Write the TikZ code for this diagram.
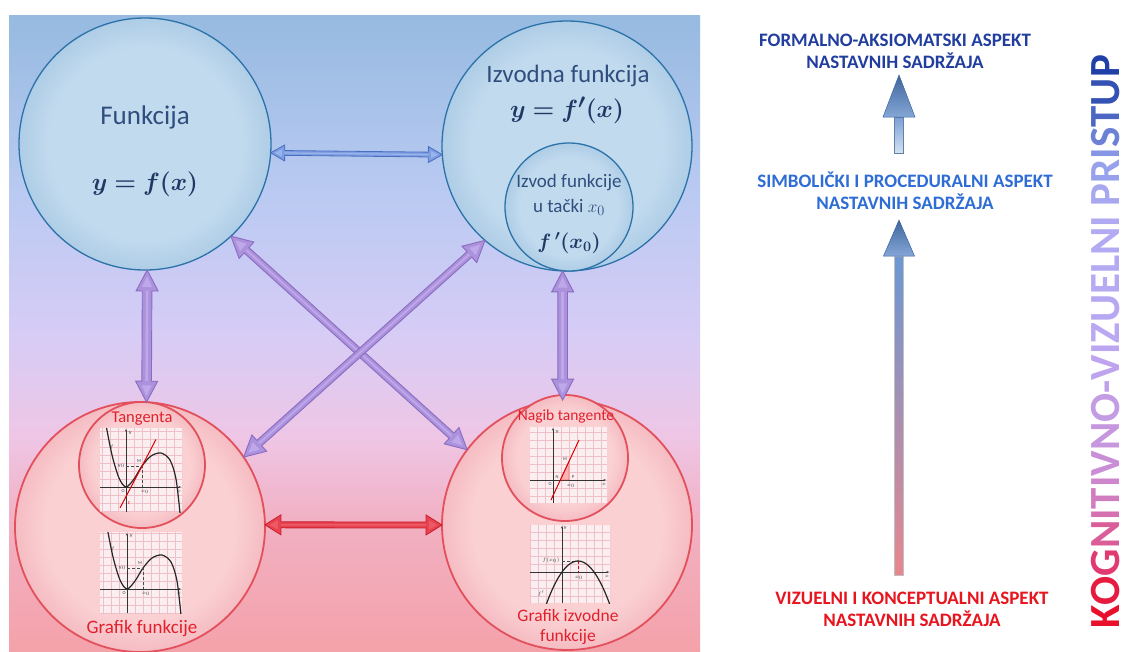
\documentclass[tikz,border=0pt]{standalone}
\usepackage{fontspec}
\usepackage{bm}
\setmainfont{Carlito}
\usetikzlibrary{calc,shadings,arrows.meta}
\definecolor{bgA}{HTML}{96BAE0}
\definecolor{bgB}{HTML}{BACAF2}
\definecolor{bgC}{HTML}{D6CCF6}
\definecolor{bgD}{HTML}{EEC6E6}
\definecolor{bgE}{HTML}{F2B0C2}
\definecolor{bgF}{HTML}{F4A2AA}
\definecolor{tcA}{HTML}{C2DAEE}
\definecolor{tcB}{HTML}{AECDE6}
\definecolor{tcLine}{HTML}{2B72A8}
\definecolor{tcText}{HTML}{2F4E7E}
\definecolor{tcMath}{HTML}{1F3864}
\definecolor{bcA}{HTML}{FAD0D3}
\definecolor{bcB}{HTML}{F5BCC2}
\definecolor{bcLine}{HTML}{E2505C}
\definecolor{redText}{HTML}{E2202C}
\definecolor{pFill}{HTML}{AC92DC}
\definecolor{pLine}{HTML}{8A6CC0}
\definecolor{pHi}{HTML}{BEA8EA}
\definecolor{bFill}{HTML}{7E9EE2}
\definecolor{bLine}{HTML}{4A6EC0}
\definecolor{bHi}{HTML}{98B4EC}
\definecolor{rFill}{HTML}{E84250}
\definecolor{rLine}{HTML}{C81E2C}
\definecolor{rHi}{HTML}{EC5A66}
\definecolor{gBg}{HTML}{FBEEF1}
\definecolor{gGrid}{HTML}{F0C0C8}
\definecolor{formBlue}{HTML}{213E9E}
\definecolor{simbBlue}{HTML}{2E6CD6}
\definecolor{vizRed}{HTML}{E8141E}
\definecolor{upTop}{HTML}{7AA0D4}
\definecolor{upBot}{HTML}{D4E2F2}
\definecolor{headBlue}{HTML}{4F80C4}
\definecolor{headLine}{HTML}{3A64A4}
\definecolor{lgTop}{HTML}{6A98D4}
\definecolor{lgMid}{HTML}{C4B4E4}
\definecolor{lgBot}{HTML}{E8868E}
\pgfdeclareverticalshading{bgshade}{100bp}{color(0bp)=(bgF); color(25bp)=(bgF); color(35bp)=(bgE); color(42bp)=(bgD); color(50bp)=(bgC); color(61bp)=(bgB); color(75bp)=(bgA); color(100bp)=(bgA)}
\pgfdeclareradialshading{tcirc}{\pgfpoint{0bp}{0bp}}{color(0bp)=(tcA); color(19bp)=(tcA); color(25bp)=(tcB); color(50bp)=(tcB)}
\pgfdeclareradialshading{bcirc}{\pgfpoint{0bp}{0bp}}{color(0bp)=(bcA); color(19bp)=(bcA); color(25bp)=(bcB); color(50bp)=(bcB)}
% #1 style, #2 from, #3 to, #4 head length, #5 head half width, #6 shaft half width, #7 highlight colour
\newcommand\dblarrow[7]{%
  \coordinate (da1) at ($(#2)!#4!(#3)$);
  \coordinate (da2) at ($(#3)!#4!(#2)$);
  \draw[#1] (#2) -- ($(da1)!#5!90:(#3)$) -- ($(da1)!#6!90:(#3)$) -- ($(da2)!#6!-90:(#2)$) -- ($(da2)!#5!-90:(#2)$) -- (#3) -- ($(da2)!#5!90:(#2)$) -- ($(da2)!#6!90:(#2)$) -- ($(da1)!#6!-90:(#3)$) -- ($(da1)!#5!-90:(#3)$) -- cycle;
  \coordinate (db1) at ($(#2)!0.8*#4!(#3)$);
  \coordinate (db2) at ($(#3)!0.8*#4!(#2)$);
  \fill[#7] ($(#2)!0.3*#4!(#3)$) -- ($(db1)!0.45*#5!90:(#3)$) -- ($(db1)!0.45*#5!-90:(#3)$) -- cycle;
  \fill[#7] ($(#3)!0.3*#4!(#2)$) -- ($(db2)!0.45*#5!90:(#2)$) -- ($(db2)!0.45*#5!-90:(#2)$) -- cycle;
  \draw[#7, line width=0.5*#6] (da1) -- (da2);}
\newcommand\gridbox[4]{%
  \begin{scope}
    \clip (#1,#2) rectangle (#3,#4);
    \fill[gbox] (#1,#2) rectangle (#3,#4);
    \foreach \gv in {-40,-32,...,64} {\draw[ggrid] (\gv,#2) -- (\gv,#4); \draw[ggrid] (#1,\gv) -- (#3,\gv);}
  \end{scope}}
\newcommand\lcol[2]{\textcolor[HTML]{#1}{#2}}
\newcommand\fsz[1]{\fontsize{#1}{#1}\selectfont}
\begin{document}
\begin{tikzpicture}[x=1pt,y=-1pt,
  topcirc/.style={circle, draw=tcLine, line width=1.3pt, shade, shading=tcirc, inner sep=0pt, outer sep=0pt},
  botcirc/.style={circle, draw=bcLine, line width=1.8pt, shade, shading=bcirc, inner sep=0pt, outer sep=0pt},
  toptext/.style={text=tcText, inner sep=0pt},
  topmath/.style={text=tcMath, inner sep=0pt},
  redlabel/.style={text=redText, inner sep=0pt},
  sidetext/.style={font={\fontsize{19}{22}\selectfont\bfseries}, align=center, inner sep=0pt},
  parr/.style={fill=pFill, draw=pLine, line width=0.9pt, line join=miter},
  barr/.style={fill=bFill, draw=bLine, line width=0.8pt},
  rarr/.style={fill=rFill, draw=rLine, line width=0.8pt},
  gbox/.style={fill=gBg},
  ggrid/.style={draw=gGrid, line width=0.4pt},
  gaxis/.style={line width=0.5pt, black!80, -{Stealth[length=2.5pt,width=2pt]}},
  gcurve/.style={line width=1.2pt, black!85},
  gtan/.style={line width=1pt, red!85!black},
  gdash/.style={line width=0.4pt, densely dashed, black!70},
  glab/.style={font={\fsz{4.5}}, inner sep=0pt, text=black!75}]
\useasboundingbox (0,0) rectangle (1129,651);
\fill[white] (0,0) rectangle (1129,651);
\shade[shading=bgshade] (9,15) rectangle (700,651);

% circles
\node[topcirc, minimum size=252pt] (F) at (145,144) {};
\node[topcirc, minimum size=250pt] (I) at (567,146) {};
\node[topcirc, minimum size=128pt] (IT) at (569,207) {};
\node[botcirc, minimum size=250pt] (G) at (140,527) {};
\node[botcirc, minimum size=126pt] (T) at (142,465) {};
\node[botcirc, minimum size=250pt] (DG) at (567,525) {};
\node[botcirc, minimum size=126pt] (NT) at (565,458) {};

% texts in circles
\node[toptext, font={\fsz{27}}] (fT) at (145,117) {Funkcija};
\node[topmath, font={\fsz{28}}] (fM) at (145,184) {$\bm{y=f(x)}$};
\node[toptext, font={\fsz{25}}] (iT) at (568,76) {Izvodna funkcija};
\node[topmath, font={\fsz{28}}] (iM) at (567,110) {$\bm{y=f'(x)}$};
\node[toptext, font={\fontsize{19}{25}\selectfont}, align=center] (itT) at (569,195) {Izvod funkcije\\u tački $x_0$};
\node[topmath, font={\fsz{21}}] (itM) at (569,243) {$\bm{f\,'(x_0)}$};
\node[redlabel, font={\fsz{16.5}}] (tT) at (142,419) {Tangenta};
\node[redlabel, font={\fsz{19}}] (gT) at (142,629) {Grafik funkcije};
\node[redlabel, font={\fsz{15.5}}] (nT) at (566,416) {Nagib tangente};
\node[redlabel, font={\fontsize{17.5}{20}\selectfont}, align=center] (dT) at (568,627) {Grafik izvodne\\funkcije};

% graph 1 (tangent)
\begin{scope}[shift={(126,487)}, yscale=-1]
  \gridbox{-26}{-25}{56}{59}
  \draw[gaxis] (-26,0) -- (55,0);
  \draw[gaxis] (0,-25) -- (0,58);
  \begin{scope}
    \clip (-26,-25) rectangle (56,59);
    \draw[gcurve] plot[smooth] coordinates {(-20,62) (-14,32) (-7,9) (0,0) (8,8) (16,21) (25,31) (35,34) (44,27) (50,8) (54,-26)};
    \draw[gdash] (0,21) -- (16,21) -- (16,0);
    \draw[gtan] (-6,-21) -- (30,47.6);
  \end{scope}
  \node[glab] at (4,54) {$y$};
  \node[glab] at (-14,40) {$f$};
  \node[glab] at (13,26) {M};
  \node[glab] at (-5,21) {$y_0$};
  \node[glab] at (-3,-4) {O};
  \node[glab] at (19,-5) {$x_0$};
  \node[glab] at (53,-4) {$x$};
  \node[glab, text=red!80!black] at (3,-16) {$t$};
\end{scope}

% graph 2 (function)
\begin{scope}[shift={(127,589)}, yscale=-1]
  \gridbox{-27}{-24}{55}{57}
  \draw[gaxis] (-27,0) -- (54,0);
  \draw[gaxis] (0,-24) -- (0,56);
  \begin{scope}
    \clip (-27,-24) rectangle (55,57);
    \draw[gcurve] plot[smooth] coordinates {(-20,62) (-14,32) (-7,9) (0,0) (8,8) (16,21) (25,31) (35,34) (44,27) (50,8) (54,-26)};
    \draw[gdash] (0,21) -- (16,21) -- (16,0);
  \end{scope}
  \node[glab] at (4,53) {$y$};
  \node[glab] at (-14,40) {$f$};
  \node[glab] at (13,26) {M};
  \node[glab] at (-5,21) {$y_0$};
  \node[glab] at (-3,-4) {O};
  \node[glab] at (19,-5) {$x_0$};
  \node[glab] at (52,-4) {$x$};
\end{scope}

% graph 3 (slope)
\begin{scope}[shift={(553,480)}, yscale=-1]
  \gridbox{-23}{-23}{54}{53}
  \draw[gaxis] (-23,0) -- (53,0);
  \draw[gaxis] (0,-23) -- (0,52);
  \fill[red!30, draw=red!80!black, line width=0.4pt] (7.3,0) -- (16,0) -- (16,18.7) -- cycle;
  \draw[gtan] (-2,-20) -- (26,40);
  \node[glab] at (4,48) {$y$};
  \node[glab] at (12,21) {M};
  \node[glab] at (4,3) {N};
  \node[glab] at (20,3) {P};
  \node[glab] at (-3,-4) {O};
  \node[glab] at (18,-6) {$x_0$};
  \node[glab] at (51,-4) {$x$};
  \node[glab, text=red!80!black] at (0,-17) {$t$};
\end{scope}

% graph 4 (derivative)
\begin{scope}[shift={(562,572)}, yscale=-1]
  \gridbox{-32}{-31}{48}{47}
  \draw[gaxis] (-32,0) -- (47,0);
  \draw[gaxis] (0,-31) -- (0,46);
  \begin{scope}
    \clip (-32,-31) rectangle (48,47);
    \draw[gdash] (0,11) -- (16,11);
    \draw[gdash, red!80!black] (16,11) -- (16,0);
    \draw[gcurve] plot[domain=-17:48, samples=40, smooth] (\x,{11-0.043*(\x-16)*(\x-16)});
  \end{scope}
  \node[glab, font={\fsz{5.5}}] at (-11,12) {$f(x_0)$};
  \node[glab] at (3,44) {$y$};
  \node[glab] at (17,-6) {$x_0$};
  \node[glab] at (45,-4) {$x$};
  \node[glab] at (-21,-22) {$f'$};
\end{scope}

% connectors
\dblarrow{barr}{F.-4}{I.184}{14pt}{8pt}{2.4pt}{bHi}
\dblarrow{rarr}{G.1}{DG.180}{16pt}{10pt}{3pt}{rHi}
\dblarrow{parr}{F.-89}{G.87}{21pt}{11pt}{4.8pt}{pHi}
\dblarrow{parr}{I.-92}{DG.92}{21pt}{11pt}{4.8pt}{pHi}
\dblarrow{parr}{F.-47}{DG.143}{21pt}{11pt}{3.6pt}{pHi}
\dblarrow{parr}{I.-131}{G.34}{21pt}{11pt}{3.6pt}{pHi}

% right side texts
\node[sidetext, text=formBlue] (form) at (895,51) {FORMALNO-AKSIOMATSKI ASPEKT\\NASTAVNIH SADRŽAJA};
\node[sidetext, text=simbBlue] (simb) at (905,191) {SIMBOLIČKI I PROCEDURALNI ASPEKT\\NASTAVNIH SADRŽAJA};
\node[sidetext, text=vizRed] (viz) at (912,609) {VIZUELNI I KONCEPTUALNI ASPEKT\\NASTAVNIH SADRŽAJA};

% vertical arrows
\coordinate (uAb) at (899,153);
\coordinate (uAt) at (899,75);
\coordinate (uBb) at (899,575);
\coordinate (uBt) at (899,220);
\shade[top color=upTop, bottom color=upBot, draw=upTop!80!black, line width=0.4pt] ($(uAb)+(-4.5,0)$) rectangle ($(uAt)+(4.5,42)$);
\shade[top color=headBlue!80!black, bottom color=headBlue!70!white, draw=headLine, line width=0.5pt] (uAt) -- ($(uAt)+(16,42)$) -- ($(uAt)+(-16,42)$) -- cycle;
\shade[top color=lgTop, middle color=lgMid, bottom color=lgBot, draw=black!25, line width=0.4pt] ($(uBb)+(-4.5,0)$) rectangle ($(uBt)+(4.5,36)$);
\shade[top color=headBlue!80!black, bottom color=headBlue!70!white, draw=headLine, line width=0.5pt] (uBt) -- ($(uBt)+(15.5,36)$) -- ($(uBt)+(-15.5,36)$) -- cycle;

% vertical title
\node[rotate=90, anchor=base, inner sep=0pt, text depth=0pt, font={\fsz{43}\bfseries}] (title) at (1119,342) {\lcol{E8102A}{K}\lcol{E51C40}{O}\lcol{E03A70}{G}\lcol{DA5C98}{N}\lcol{D670B0}{I}\lcol{D27CC0}{T}\lcol{CE86CC}{I}\lcol{CA8ED6}{V}\lcol{C696DE}{N}\lcol{C49CE4}{O}\lcol{C0A0EA}{-}\lcol{BEA4EE}{V}\lcol{BCA6F0}{I}\lcol{BAA8F2}{Z}\lcol{B8A8F2}{U}\lcol{B6AAF2}{E}\lcol{B4AAF2}{L}\lcol{B2AAF2}{N}\lcol{B0AAF2}{I} \lcol{A8A8F0}{P}\lcol{98A2EC}{R}\lcol{8696E4}{I}\lcol{6C80D6}{S}\lcol{4C66C4}{T}\lcol{3452B4}{U}\lcol{2040A8}{P}};
\end{tikzpicture}
\end{document}
